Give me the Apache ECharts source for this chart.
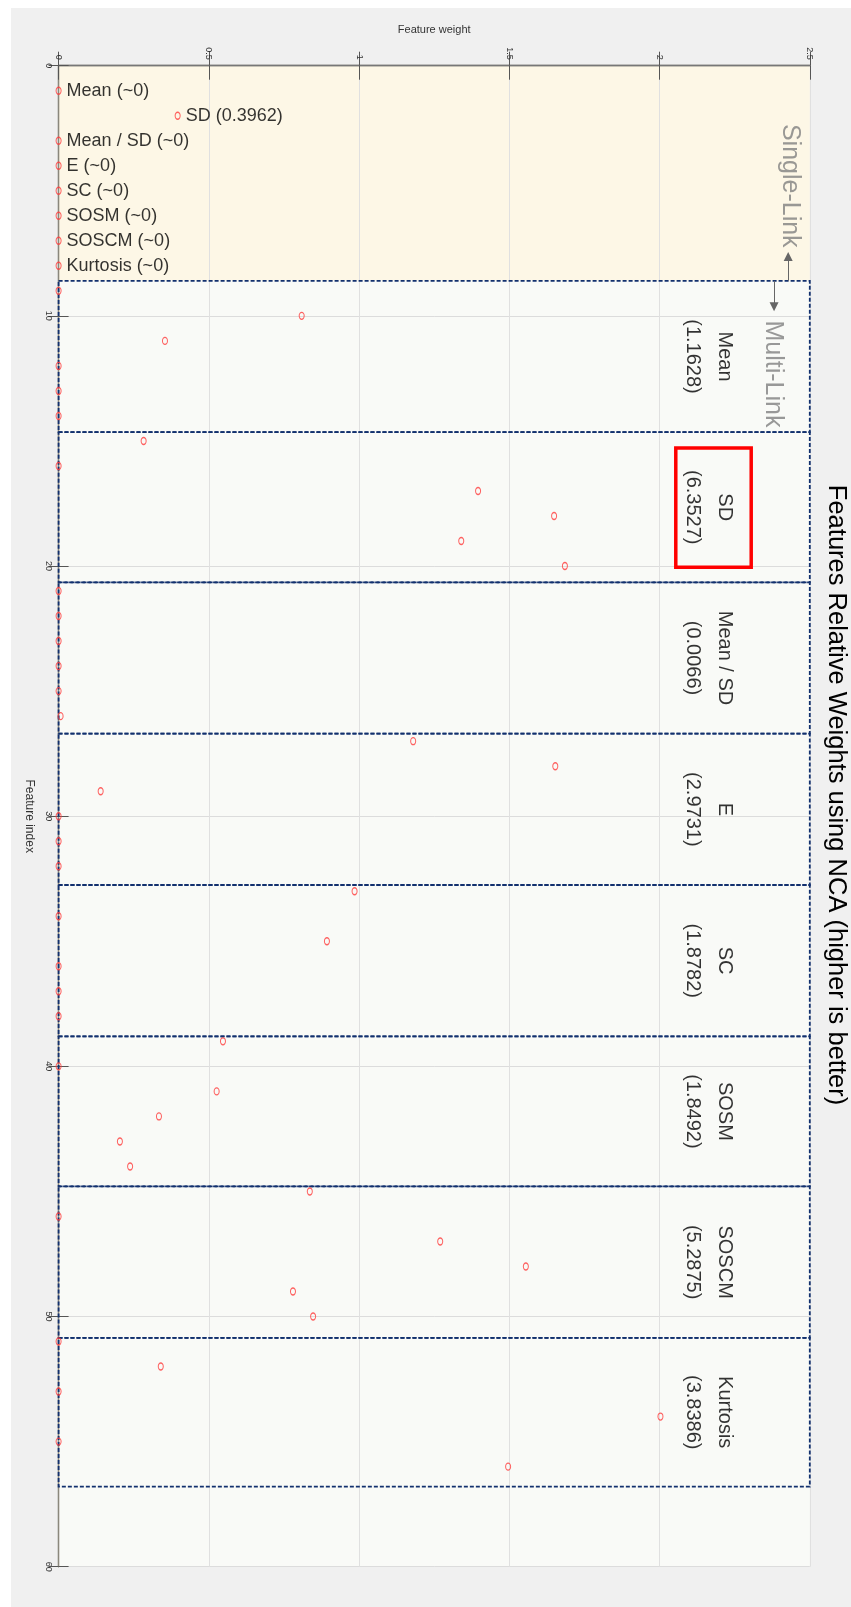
<!DOCTYPE html>
<html>
<head>
<meta charset="utf-8">
<script src="https://cdn.jsdelivr.net/npm/echarts@6/dist/echarts.min.js"></script>
<style>
  html, body { margin: 0; padding: 0; background: #fff; }
  #chart { position: absolute; left: 11px; top: 8px; width: 840px; height: 1599px; }
</style>
</head>
<body>
<div id="chart"></div>
<script>
// feature index 1..56, weight
var featureIndex = [
  1, 2, 3, 4, 5, 6, 7, 8,
  9, 10, 11, 12, 13, 14,
  15, 16, 17, 18, 19, 20,
  21, 22, 23, 24, 25, 26,
  27, 28, 29, 30, 31, 32,
  33, 34, 35, 36, 37, 38,
  39, 40, 41, 42, 43, 44,
  45, 46, 47, 48, 49, 50,
  51, 52, 53, 54, 55, 56
];
var featureWeight = [
  0, 0.3962, 0, 0, 0, 0, 0, 0,
  0, 0.809, 0.354, 0, 0, 0,
  0.283, 0, 1.396, 1.649, 1.340, 1.685,
  0, 0, 0, 0, 0, 0.0066,
  1.180, 1.653, 0.140, 0, 0, 0,
  0.985, 0, 0.893, 0, 0, 0,
  0.547, 0, 0.526, 0.334, 0.204, 0.238,
  0.836, 0, 1.270, 1.555, 0.780, 0.847,
  0, 0.340, 0, 2.003, 0, 1.496
];
var singleLinkLabels = ["Mean (~0)", "SD (0.3962)", "Mean / SD (~0)", "E (~0)", "SC (~0)", "SOSM (~0)", "SOSCM (~0)", "Kurtosis (~0)"];
var groupNames = ["Mean", "SD", "Mean / SD", "E", "SC", "SOSM", "SOSCM", "Kurtosis"];
var groupTotals = ["1.1628", "6.3527", "0.0066", "2.9731", "1.8782", "1.8492", "5.2875", "3.8386"];
var groupBounds = [8.6, 14.65, 20.65, 26.7, 32.75, 38.8, 44.8, 50.85, 56.8];
var weightTicks = ["0", "0.5", "1", "1.5", "2", "2.5"];
var indexTicks = ["0", "10", "20", "30", "40", "50", "60"];

var FONT = "Liberation Sans, Arial, Helvetica, sans-serif";

var pointData = featureIndex.map(function (idx, k) {
  var item = { value: [featureWeight[k], idx] };
  if (k < singleLinkLabels.length) {
    item.label = {
      show: true,
      position: "right",
      distance: 5,
      formatter: singleLinkLabels[k],
      fontSize: 18,
      color: "#000",
      fontFamily: FONT
    };
  }
  return item;
});

var boxes = [];
for (var i = 0; i < groupBounds.length - 1; i++) {
  boxes.push([{ xAxis: 0, yAxis: groupBounds[i] }, { xAxis: 2.5, yAxis: groupBounds[i + 1] }]);
}

var groupLabelData = groupNames.map(function (n, k) {
  return {
    value: [2.164, (groupBounds[k] + groupBounds[k + 1]) / 2],
    label: { formatter: n + "\n(" + groupTotals[k] + ")" }
  };
});

var myChart = echarts.init(document.getElementById("chart"));
var option = {
  animation: false,
  backgroundColor: "#f0f0f0",
  textStyle: { fontFamily: FONT },
  grid: { left: 47.6, top: 57.7, right: 41.2, bottom: 40.3, containLabel: false },
  xAxis: [
    {
      type: "value",
      position: "top",
      min: 0,
      max: 2.5,
      interval: 0.5,
      name: "Feature weight",
      nameLocation: "middle",
      nameGap: 30,
      nameTextStyle: { fontSize: 11, color: "#333" },
      axisLine: { show: true, lineStyle: { color: "#8a877c", width: 1.3 } },
      axisTick: { show: true, inside: true, length: 14, lineStyle: { color: "#555" } },
      axisLabel: {
        rotate: -90,
        fontSize: 9,
        margin: 6,
        color: "#333",
        formatter: function (v) { return weightTicks[Math.round(v / 0.5)]; }
      },
      splitLine: { show: true, lineStyle: { color: "#e0e0e0", width: 1 } }
    },
    {
      type: "value",
      position: "bottom",
      min: 0,
      max: 2.5,
      interval: 0.5,
      axisLine: { show: true, lineStyle: { color: "#777", width: 1.3 } },
      axisTick: { show: true, inside: true, length: 14, lineStyle: { color: "#555" } },
      axisLabel: { show: false },
      splitLine: { show: false }
    }
  ],
  yAxis: [
    {
      type: "value",
      inverse: true,
      position: "left",
      min: 0,
      max: 60,
      interval: 10,
      name: "Feature index",
      nameLocation: "middle",
      nameRotate: -90,
      nameGap: 16,
      nameTextStyle: { fontSize: 12, color: "#333" },
      axisLine: { show: true, lineStyle: { color: "#8a877c", width: 1.3 } },
      axisTick: { show: true, inside: true, length: 10, lineStyle: { color: "#555" } },
      axisLabel: {
        rotate: -90,
        fontSize: 9,
        margin: 6,
        color: "#333",
        formatter: function (v) { return indexTicks[Math.round(v / 10)]; }
      },
      splitLine: { show: true, lineStyle: { color: "#dcdcdc", width: 1 } }
    },
    {
      type: "value",
      inverse: true,
      position: "right",
      min: 0,
      max: 60,
      interval: 10,
      axisLine: { show: true, lineStyle: { color: "#8a877c", width: 1.3 } },
      axisTick: { show: true, inside: true, length: 10, lineStyle: { color: "#555" } },
      axisLabel: { show: false },
      splitLine: { show: false }
    }
  ],
  series: [
    {
      // plot background (single-link region tinted)
      type: "scatter",
      z: -1,
      data: [],
      silent: true,
      markArea: {
        silent: true,
        z: -1,
        data: [
          [{ xAxis: 0, yAxis: 0, itemStyle: { color: "#fdf7e6" } }, { xAxis: 2.5, yAxis: groupBounds[0] }],
          [{ xAxis: 0, yAxis: groupBounds[0], itemStyle: { color: "#f9faf7" } }, { xAxis: 2.5, yAxis: 60 }]
        ]
      }
    },
    {
      // dashed group boxes
      type: "scatter",
      data: [],
      silent: true,
      markArea: {
        silent: true,
        itemStyle: {
          color: "rgba(0,0,0,0)",
          borderColor: "#12306e",
          borderWidth: 1.8,
          borderType: [4, 2]
        },
        data: boxes
      }
    },
    {
      name: "weights",
      type: "scatter",
      clip: false,
      symbol: "circle",
      symbolSize: [5, 7],
      itemStyle: { color: "rgba(0,0,0,0)", borderColor: "#ff3b3b", borderWidth: 1.2 },
      data: pointData
    },
    {
      // group captions + highlight box
      type: "scatter",
      symbolSize: 0,
      silent: true,
      label: {
        show: true,
        position: "inside",
        rotate: -90,
        fontSize: 20,
        lineHeight: 32,
        color: "#000",
        align: "center",
        fontFamily: FONT
      },
      data: groupLabelData,
      markArea: {
        silent: true,
        itemStyle: { color: "rgba(0,0,0,0)", borderColor: "#ff0000", borderWidth: 3.5 },
        data: [[{ xAxis: 2.054, yAxis: 15.28 }, { xAxis: 2.305, yAxis: 20.05 }]]
      }
    },
    {
      // single-link / multi-link tags with arrows
      type: "scatter",
      symbolSize: 0,
      silent: true,
      label: {
        show: true,
        position: "inside",
        rotate: -90,
        fontSize: 25,
        color: "#808080",
        fontFamily: FONT,
        formatter: function (p) { return p.name; }
      },
      data: [
        { name: "Single-Link", value: [2.434, 4.8] },
        { name: "Multi-Link", value: [2.378, 12.32] }
      ],
      markLine: {
        silent: true,
        symbol: ["none", "triangle"],
        symbolSize: 9,
        label: { show: false },
        lineStyle: { color: "#666", width: 1, type: "solid" },
        data: [
          [{ coord: [2.428, groupBounds[0]] }, { coord: [2.428, 7.63] }],
          [{ coord: [2.381, groupBounds[0]] }, { coord: [2.381, 9.64] }]
        ]
      }
    }
  ],
  graphic: [
    {
      type: "text",
      x: 825,
      y: 787,
      rotation: -Math.PI / 2,
      style: {
        text: "Features Relative Weights using NCA (higher is better)",
        fontSize: 25.5,
        fontFamily: FONT,
        fill: "#000",
        align: "center",
        verticalAlign: "middle"
      }
    }
  ]
};
myChart.setOption(option);
</script>
</body>
</html>
